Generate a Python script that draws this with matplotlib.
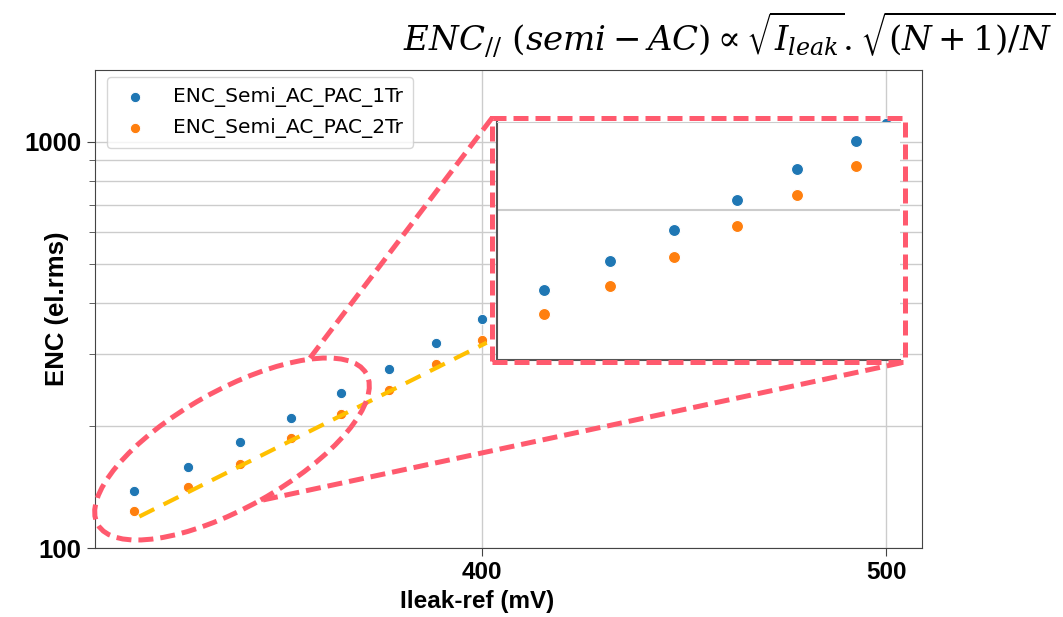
import matplotlib.pyplot as plt
from matplotlib.patches import Ellipse, Rectangle
from matplotlib.lines import Line2D
from matplotlib.ticker import NullLocator, NullFormatter, FixedLocator, FuncFormatter
from matplotlib.transforms import Affine2D

# Ileak-ref (mV)
ileak = [330, 340, 350, 360, 370, 380, 390, 400, 410, 420, 430, 440, 450, 460, 470, 480, 490, 500]
# ENC (el.rms)
enc_1tr = [138, 158, 182, 209, 241, 275, 320, 365, 416, 472, 533, 600, 672, 749, 831, 919, 1011, 1112]
enc_2tr = [123.5, 141, 161, 186, 214, 245, 283, 324, 370, 420, 474, 533, 597, 666, 739, 817, 899, 988]
# power law fit drawn on the 2Tr series
fit_x = [331, 401]
fit_y = [119.5, 320]

blue = '#1f77b4'
orange = '#ff7f0e'
red = '#ff5a6e'
gold = '#ffc000'

plt.rcParams['mathtext.fontset'] = 'dejavuserif'

W, H = 1063, 617
fig = plt.figure(figsize=(W / 100, H / 100), dpi=100)
ax = fig.add_axes([95 / W, 1 - 548 / H, 827 / W, 478 / H])

ax.scatter(ileak, enc_1tr, s=55, color=blue, edgecolor='white', linewidth=0.7,
           label='ENC_Semi_AC_PAC_1Tr', zorder=3)
ax.scatter(ileak, enc_2tr, s=55, color=orange, edgecolor='white', linewidth=0.7,
           label='ENC_Semi_AC_PAC_2Tr', zorder=3)
ax.plot(fit_x, fit_y, color=gold, lw=3, dashes=(4, 2.5), zorder=4)

ax.set_xscale('log')
ax.set_yscale('log')
ax.set_xlim(323, 510)
ax.set_ylim(100, 1500)
ax.xaxis.set_major_locator(FixedLocator([400, 500]))
ax.xaxis.set_major_formatter(FuncFormatter(lambda v, p: f'{v:.0f}'))
ax.xaxis.set_minor_locator(NullLocator())
ax.yaxis.set_major_formatter(FuncFormatter(lambda v, p: f'{v:.0f}'))
ax.yaxis.set_minor_formatter(NullFormatter())

ax.grid(True, which='major', axis='x', color='#cccccc', lw=1)
ax.grid(True, which='both', axis='y', color='#cccccc', lw=1)
ax.set_axisbelow(True)
for s in ax.spines.values():
    s.set_color('#444444')

xtick_font = dict(family='Liberation Sans', weight='bold', size=17.5)
ytick_font = dict(family='Liberation Sans', weight='bold', size=18.5)
for lab in ax.get_xticklabels():
    lab.set_fontproperties(xtick_font)
for lab in ax.get_yticklabels():
    lab.set_fontproperties(ytick_font)
ax.tick_params(which='major', length=6, color='#444444')
ax.tick_params(which='minor', length=4, color='#444444')
ax.tick_params(axis='y', pad=4)
ax.set_xlabel('Ileak-ref (mV)', fontdict=dict(family='Liberation Sans', weight='bold', size=17.5))
ax.set_ylabel('ENC (el.rms)', fontdict=dict(family='Liberation Sans', weight='bold', size=18.5))
ax.xaxis.set_label_coords(0.462, -0.088)
ax.yaxis.set_label_coords(-0.046, 0.5)
ax.yaxis.label.set_va('center')

ax.legend(loc='upper left', bbox_to_anchor=(0.0145, 0.985), borderaxespad=0,
          fontsize=14.5, markerscale=1.0, handletextpad=1.0, borderpad=0.5,
          labelspacing=0.55, handlelength=1.8)

# zoomed inset
ins = fig.add_axes([497 / W, 1 - 360 / H, 403 / W, 238 / H], zorder=5)
ins.scatter(ileak, enc_1tr, s=75, color=blue, edgecolor='white', linewidth=0.8)
ins.scatter(ileak, enc_2tr, s=75, color=orange, edgecolor='white', linewidth=0.8)
ins.set_xscale('log')
ins.set_yscale('log')
ins.set_xlim(323, 387.6)
ins.set_ylim(100, 300)
ins.xaxis.set_major_locator(NullLocator())
ins.xaxis.set_minor_locator(NullLocator())
ins.yaxis.set_major_locator(FixedLocator([200]))
ins.yaxis.set_minor_locator(NullLocator())
ins.tick_params(length=0, labelleft=False, labelbottom=False)
ins.grid(True, axis='y', color='#cccccc', lw=1.5)
ins.spines['left'].set_color('#555555')
ins.spines['bottom'].set_color('#555555')
ins.spines['left'].set_linewidth(1.5)
ins.spines['bottom'].set_linewidth(1.5)
ins.spines['top'].set_color('#cccccc')
ins.spines['right'].set_visible(False)

# annotation shapes, placed in pixel coordinates of the picture
px = Affine2D().scale(1 / W, 1 / H) + fig.transFigure
red_style = dict(color=red, lw=3.6, dashes=(3, 1.4))

ell = Ellipse((232, H - 449), 308, 117, angle=29.3, fill=False, edgecolor=red,
              lw=3.6, linestyle=(0, (3, 1.4)), transform=px, zorder=6)
fig.patches.append(ell)
rect = Rectangle((492, H - 362), 413, 244, fill=False, edgecolor=red, lw=3.6,
                 linestyle=(0, (3, 1.4)), transform=px, zorder=6)
fig.patches.append(rect)
fig.lines.append(Line2D([310, 492], [H - 358, H - 118], transform=px, zorder=6, **red_style))
fig.lines.append(Line2D([263, 905], [H - 500, H - 362], transform=px, zorder=6, **red_style))

fig.text(1055 / W, 1 - 35 / H,
         r'$ENC_{//}\ (semi - AC) \propto \sqrt{I_{leak}}.\sqrt{(N+1)/N}$',
         ha='right', va='center', fontsize=24.5)

fig.savefig('out.png', dpi=100)
